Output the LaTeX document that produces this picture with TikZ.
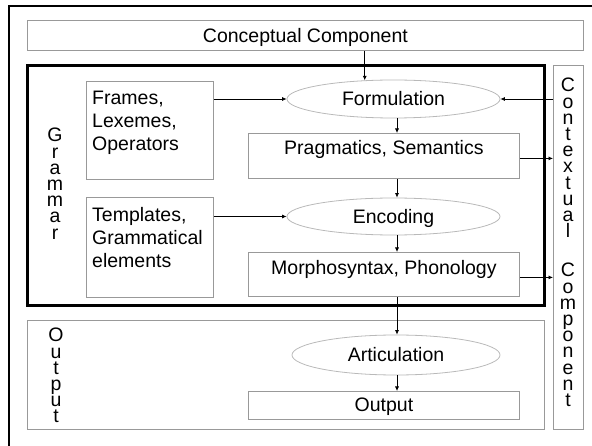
\documentclass[tikz,border=0pt]{standalone}
\usepackage{fontspec}
\setmainfont{Liberation Sans}
\usetikzlibrary{arrows.meta,shapes.geometric,calc}

\begin{document}
\begin{tikzpicture}[x=1pt,y=-1pt,
  box/.style={draw=gray!80, line width=0.8pt, inner sep=0pt, anchor=north west},
  oval/.style={ellipse, draw=gray!55, line width=0.8pt, inner sep=0pt,
               text height=14pt, text depth=0pt},
  txt/.style={font=\fontsize{19.5}{23}\selectfont},
  col/.style={font=\fontsize{19.5}{16.2}\selectfont, align=center,
              inner sep=0pt, anchor=north},
  arr/.style={-{Latex[length=4.5pt,width=4pt]}, line width=0.7pt},
  gframe/.style={draw=black, line width=3pt}]

\useasboundingbox (0,0) rectangle (592,446);

% outer frame, running off the right and bottom edges
\begin{scope}
  \clip (0,0) rectangle (592,446);
  \draw[line width=2pt] (9,6) rectangle (620,470);
\end{scope}

% top component
\node[box, txt, minimum width=556pt, text height=22.3pt, text depth=7.7pt]
  (concept) at (27,20) {Conceptual Component};

% grammar block
\draw[gframe] (27,66) rectangle (544,306);
\node[col] (gram) at (55,128) {G\\r\\a\\m\\m\\a\\r};

\node[box, minimum width=127pt, minimum height=98pt] (frames) at (86,81) {};
\node[txt, align=left, inner sep=0pt, anchor=north west] (framesT) at (92,90.7)
  {Frames,\\Lexemes,\\Operators};

\node[box, minimum width=127pt, minimum height=100pt] (templ) at (86,197) {};
\node[txt, align=left, inner sep=0pt, anchor=north west] (templT) at (92,207)
  {Templates,\\Grammatical\\elements};

\node[oval, txt, minimum width=213pt, minimum height=38pt] (formu) at (393.5,99) {Formulation};
\node[box, txt, minimum width=271pt, text height=21pt, text depth=24pt]
  (prag) at (248,133) {Pragmatics, Semantics};
\node[oval, txt, minimum width=213pt, minimum height=37pt] (enc) at (393.5,216.5) {Encoding};
\node[box, txt, minimum width=271pt, text height=22pt, text depth=22pt]
  (morph) at (248,252) {Morphosyntax, Phonology};

% output block
\node[box, minimum width=517pt, minimum height=109pt] (outarea) at (27,320) {};
\node[col] (outlbl) at (56,328) {O\\u\\t\\p\\u\\t};
\node[oval, txt, minimum width=208pt, minimum height=40pt] (artic) at (396,355) {Articulation};
\node[box, txt, minimum width=271pt, text height=20.5pt, text depth=7.5pt]
  (outbox) at (248,391) {Output};

% contextual component
\node[box, minimum width=30pt, minimum height=364pt] (context) at (553,65) {};
\node[col] (ctx) at (568,78)
  {C\\o\\n\\t\\e\\x\\t\\u\\a\\l\\[23pt]C\\o\\m\\p\\o\\n\\e\\n\\t};

% connectors
\coordinate (spine) at (397,0);
\draw[arr] (concept.south -| formu.147) -- (formu.147);
\draw[arr] (formu.south -| spine) -- (prag.north -| spine);
\draw[arr] (prag.south -| spine) -- (enc.north -| spine);
\draw[arr] (enc.south -| spine) -- (morph.north -| spine);
\draw[arr] (morph.south -| spine) -- (artic.north -| spine);
\draw[arr] (artic.south -| spine) -- (outbox.north -| spine);
\draw[arr] (frames.east |- formu.west) -- (formu.west);
\draw[arr] (templ.east |- enc.west) -- (enc.west);
\draw[arr] (context.west |- formu.east) -- (formu.east);
\draw[arr] ([yshift=-2.5pt]prag.east) -- ([yshift=-2.5pt]prag.east -| context.west);
\draw[arr] ([yshift=-3pt]morph.east) -- ([yshift=-3pt]morph.east -| context.west);
\end{tikzpicture}
\end{document}
